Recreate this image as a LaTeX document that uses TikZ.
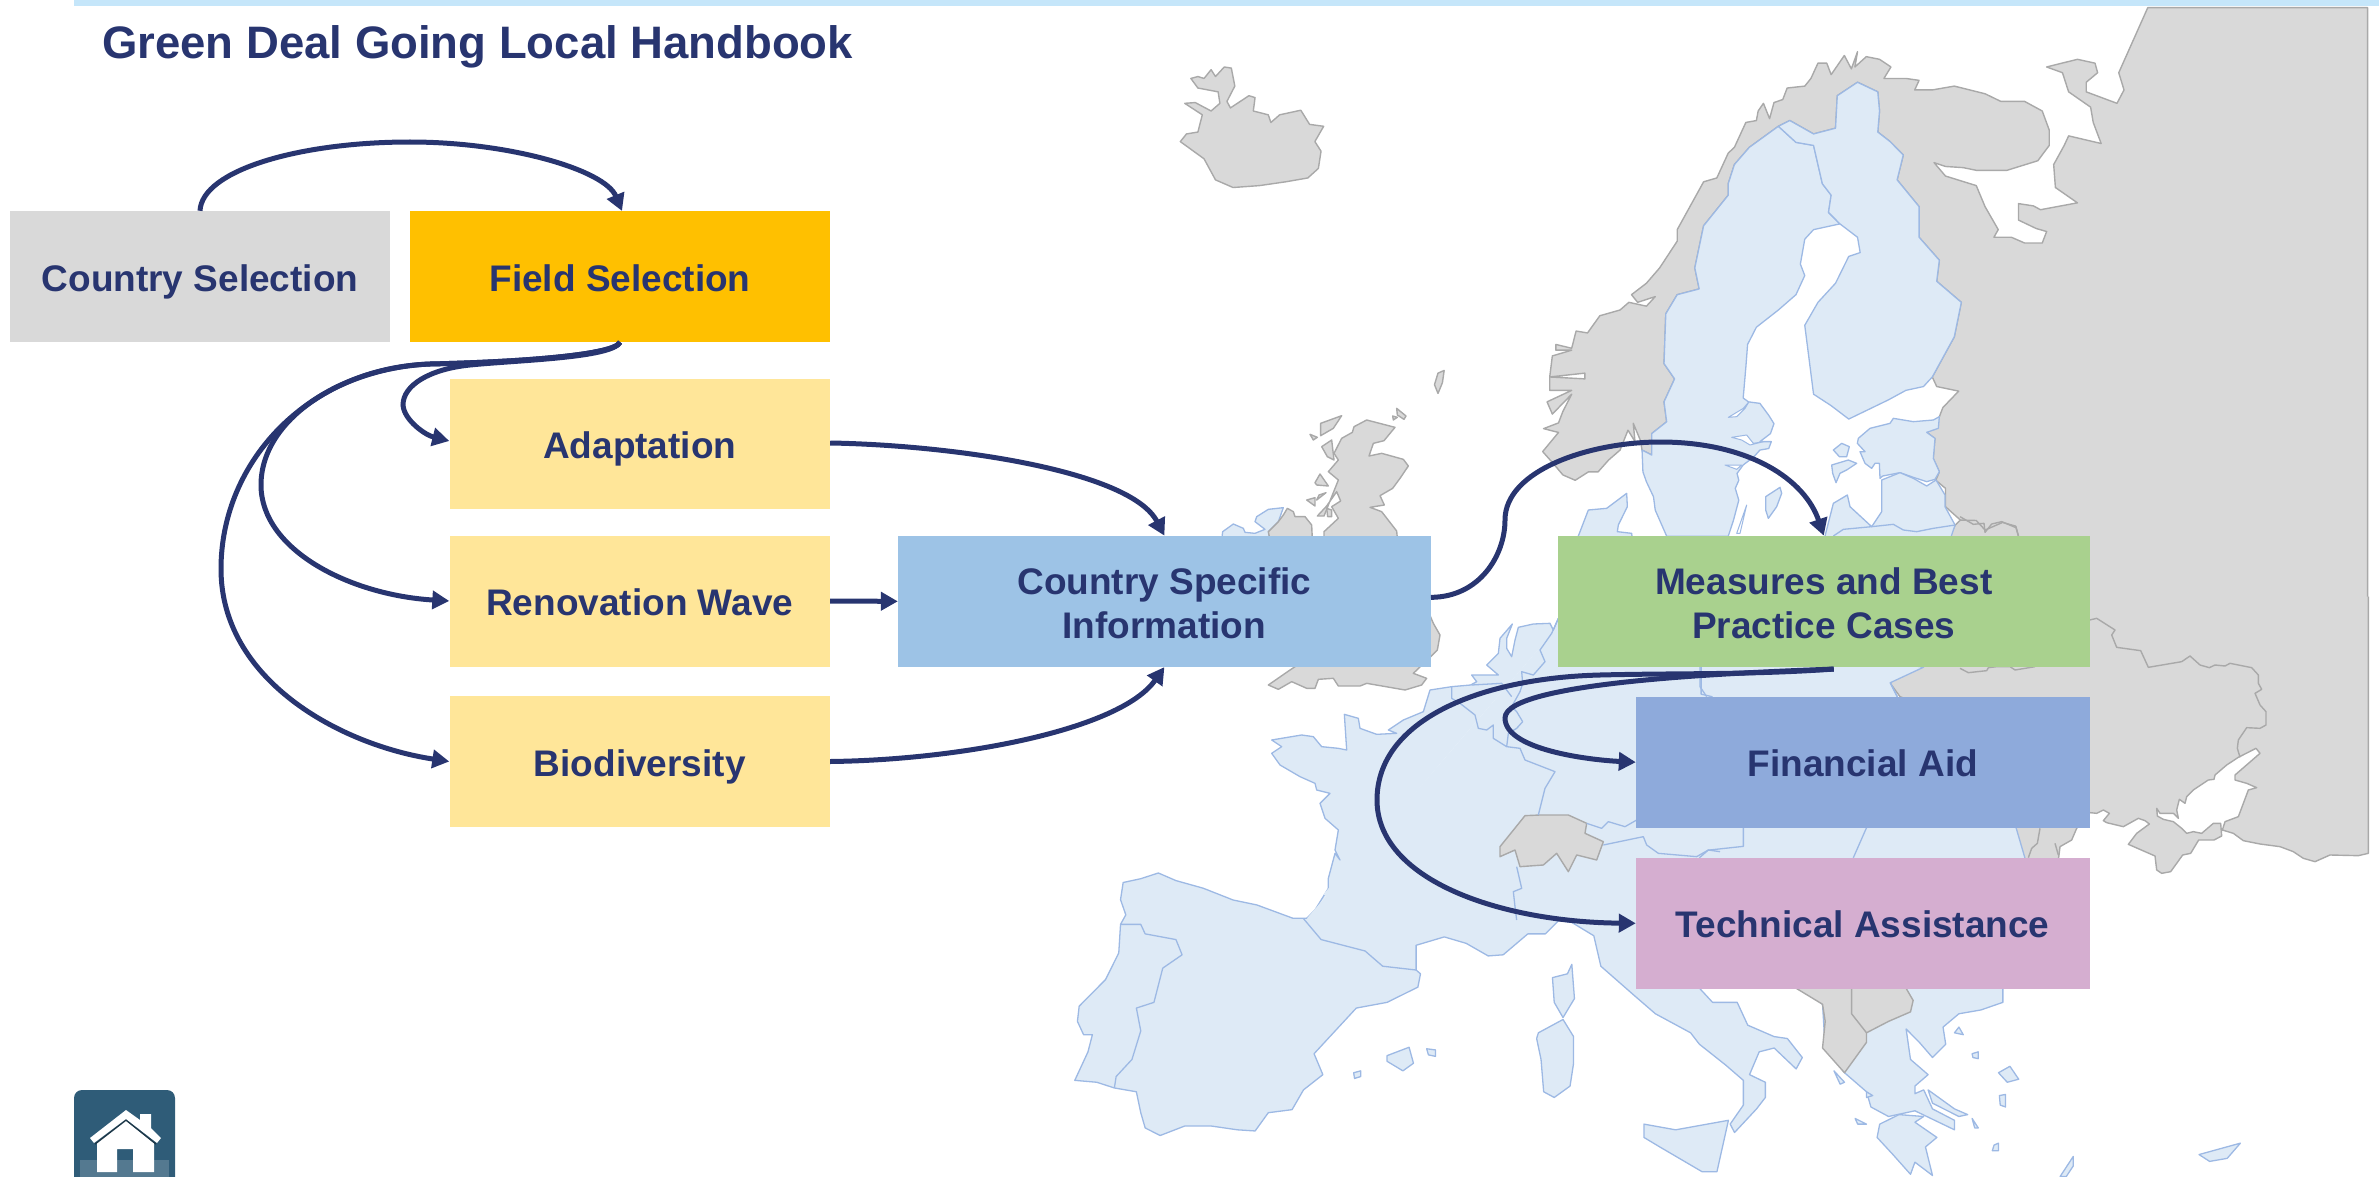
\documentclass[tikz,border=0pt]{standalone}
\usepackage{fontspec}
\setmainfont{Liberation Sans}
\usetikzlibrary{arrows.meta,calc}
\definecolor{navy}{HTML}{283570}
\definecolor{barblue}{HTML}{C5E6FA}
\definecolor{landgray}{HTML}{D9D9D9}
\definecolor{edgegray}{HTML}{A9A9A9}
\definecolor{landblue}{HTML}{DEEAF6}
\definecolor{edgeblue}{HTML}{9DB9E4}
\definecolor{boxgray}{HTML}{D9D9D9}
\definecolor{boxgold}{HTML}{FFC000}
\definecolor{boxcream}{HTML}{FFE699}
\definecolor{boxsky}{HTML}{9DC3E6}
\definecolor{boxgreen}{HTML}{A9D18E}
\definecolor{boxperi}{HTML}{8EAADB}
\definecolor{boxmauve}{HTML}{D5AED0}
\definecolor{hometeal}{HTML}{2F5C78}
\tikzset{
  nonEU/.style={fill=landgray,draw=edgegray,line width=1.4pt,line join=round},
  memberEU/.style={fill=landblue,draw=edgeblue,line width=1.3pt,line join=round},
  grayline/.style={draw=edgegray,line width=1.4pt,line join=round},
  blueline/.style={draw=edgeblue,line width=1.3pt,line join=round},
  lake/.style={fill=white,draw=edgeblue,line width=1pt,line join=round},
  za/.style={shift={(1000,0)},x=.8795pt,y=-.3827pt},
  zb/.style={shift={(1000,580)},x=.8797pt,y=-.3805pt},
  zc/.style={shift={(1200,400)},x=.33333pt,y=-.33333pt},
  zd/.style={shift={(1960,400)},x=.33333pt,y=-.33333pt},
  ze/.style={shift={(1700,400)},x=.33333pt,y=-.33333pt},
  box/.style={rectangle,inner sep=0pt,text=navy,align=center,anchor=center,
    font=\fontsize{37}{44.5}\selectfont\bfseries},
  oneline/.style={text height=29pt,text depth=0pt},
  link/.style={draw=navy,line width=5pt,-{Triangle[length=17pt,width=18pt]}},
}
\newcommand{\firstline}{\rule{0pt}{31pt}}
\begin{document}
\begin{tikzpicture}[x=1pt,y=-1pt]
\useasboundingbox (0,0) rectangle (2379,1177);
\fill[barblue] (74,0) rectangle (2379,6);

% ---------- map: northern grey land
\begin{scope}[za]
\filldraw[nonEU] (1555,1568)--(1555,20)--(1305,20)--(1272,190)--(1278,235)--(1270,270)--(1235,240)--(1235,215)--(1248,190)--(1245,165)--(1225,155)--(1190,175)--(1208,190)--(1215,240)--(1240,280)--(1243,320)--(1252,375)--(1215,355)--(1210,380)--(1198,430)--(1200,490)--(1225,530)--(1183,548)--(1175,538)--(1158,532)--(1158,575)--(1178,597)--(1190,605)--(1185,635)--(1165,635)--(1150,620)--(1130,620)--(1135,600)--(1120,540)--(1110,485)--(1075,460)--(1062,425)--(1075,435)--(1095,438)--(1110,445)--(1145,445)--(1180,420)--(1193,380)--(1193,340)--(1185,290)--(1165,265)--(1138,265)--(1120,245)--(1085,225)--(1060,235)--(1040,235)--(1045,210)--(1030,205)--(1005,205)--(1013,175)--(1000,155)--(985,148)--(972,175)--(975,135)--(968,180)--(960,145)--(945,195)--(940,165)--(930,165)--(922,205)--(915,225)--(895,230)--(890,260)--(880,268)--(875,310)--(868,270)--(862,290)--(860,315)--(848,320)--(835,385)--(828,400)--(815,465)--(800,475)--(770,600)--(770,630)--(750,700)--(735,740)--(718,770)--(725,790)--(745,775)--(735,800)--(715,790)--(705,810)--(682,825)--(668,870)--(655,865)--(650,910)--(632,900)--(632,915)--(650,915)--(628,930)--(625,985)--(665,975)--(665,990)--(625,985)--(625,1020)--(650,1020)--(622,1050)--(628,1082)--(650,1030)--(640,1075)--(635,1105)--(618,1120)--(635,1130)--(617,1180)--(629,1211)--(640,1241)--(654,1255)--(669,1233)--(680,1233)--(692,1202)--(705,1176)--(714,1124)--(722,1154)--(720,1106)--(728,1150)--(730,1176)--(741,1189)--(741,1133)--(758,1102)--(755,1050)--(767,990)--(755,950)--(757,820)--(770,770)--(795,755)--(790,700)--(800,590)--(828,510)--(828,480)--(835,430)--(852,385)--(885,330)--(898,315)--(925,350)--(950,335)--(952,250)--(975,215)--(998,240)--(1000,290)--(998,345)--(1012,370)--(1027,405)--(1020,470)--(1045,540)--(1045,620)--(1068,680)--(1065,735)--(1093,790)--(1085,880)--(1060,985)--(1065,1010)--(1090,1022)--(1072,1065)--(1068,1089)--(1054,1130)--(1063,1146)--(1061,1198)--(1068,1233)--(1064,1255)--(1075,1276)--(1075,1324)--(1092,1359)--(1086,1372)--(1080,1401)--(1080,1568);
\draw[grayline] (1092,1359)--(1110,1360)--(1120,1385)--(1140,1365)--(1155,1375)--(1158,1401);
% Iceland
\filldraw[nonEU] (217,205)--(225,200)--(232,205)--(240,182)--(245,200)--(255,175)--(263,178)--(267,225)--(258,265)--(262,282)--(283,250)--(290,255)--(288,290)--(305,300)--(308,320)--(318,300)--(342,288)--(352,325)--(368,330)--(358,370)--(365,395)--(362,440)--(350,465)--(325,475)--(295,485)--(265,490)--(245,470)--(232,415)--(205,370)--(212,350)--(225,345)--(230,300)--(210,270)--(222,268)--(240,290)--(250,270)--(248,240)--(225,230)--cycle;
% Faroe
\filldraw[nonEU] (498,975)--(505,968)--(503,1000)--(498,1028)--(494,1005)--cycle;
% Sweden
\filldraw[memberEU] (885,330)--(905,372)--(925,380)--(935,480)--(945,510)--(942,555)--(955,585)--(925,600)--(915,625)--(910,690)--(915,720)--(905,770)--(885,810)--(860,855)--(850,900)--(848,960)--(845,1040)--(851,1050)--(864,1054)--(874,1085)--(880,1107)--(876,1133)--(864,1154)--(877,1154)--(874,1172)--(864,1176)--(857,1194)--(845,1215)--(838,1237)--(840,1255)--(836,1276)--(840,1307)--(834,1359)--(828,1401)--(758,1401)--(745,1333)--(743,1298)--(735,1259)--(731,1233)--(730,1176)--(741,1189)--(741,1133)--(758,1102)--(755,1050)--(767,990)--(755,950)--(757,820)--(770,770)--(795,755)--(790,700)--(800,590)--(828,510)--(828,480)--(835,430)--(852,385)--cycle;
% Finland
\filldraw[memberEU] (955,585)--(975,620)--(978,660)--(965,670)--(950,740)--(930,790)--(915,850)--(925,1030)--(945,1060)--(965,1095)--(1010,1045)--(1030,1020)--(1050,1010)--(1060,985)--(1085,880)--(1093,790)--(1065,735)--(1068,680)--(1045,620)--(1045,540)--(1020,470)--(1027,405)--(1012,370)--(998,345)--(1000,290)--(998,240)--(975,215)--(952,250)--(950,335)--(925,350)--(898,315)--(885,330)--(905,372)--(925,380)--(935,480)--(945,510)--(942,555)--cycle;
\end{scope}

% ---------- southern grey land
\begin{scope}[zd]
\filldraw[nonEU] (1225,590)--(1225,1360)--(1195,1367)--(1110,1365)--(1065,1385)--(1030,1375)--(1000,1355)--(960,1340)--(900,1332)--(850,1322)--(820,1300)--(787,1290)--(795,1265)--(835,1250)--(865,1170)--(890,1163)--(860,1150)--(825,1140)--(825,1125)--(900,1060)--(888,1045)--(835,1072)--(800,1095)--(765,1125)--(762,1138)--(745,1140)--(700,1170)--(680,1190)--(675,1210)--(658,1198)--(650,1230)--(655,1255)--(640,1240)--(600,1240)--(590,1225)--(592,1248)--(610,1258)--(640,1265)--(665,1285)--(680,1300)--(700,1295)--(725,1300)--(760,1270)--(782,1270)--(785,1308)--(762,1320)--(716,1320)--(692,1360)--(668,1365)--(632,1415)--(605,1420)--(590,1410)--(585,1368)--(505,1333)--(530,1300)--(568,1272)--(555,1262)--(535,1255)--(490,1280)--(440,1268)--(430,1262)--(448,1240)--(430,1230)--(410,1240)--(390,1238)--(350,1285)--(335,1320)--(300,1340)--(295,1380)--(185,1380)--(165,1285)--(100,1000)--(-180,890)--(-210,849)--(-150,790)--(-150,590);
\draw[grayline] (389,660)--(410,655)--(465,690)--(455,705)--(470,742)--(542,752)--(565,802)--(665,785)--(690,768)--(720,795)--(748,803)--(765,795)--(795,798)--(810,790)--(875,803)--(895,825)--(895,850)--(905,868)--(885,880)--(900,915)--(918,935)--(918,975)--(900,985)--(860,983)--(835,1020)--(832,1045)--(840,1072);
\draw[grayline] (0,350)--(40,373)--(72,370)--(75,397)--(95,372)--(125,365)--(168,383)--(175,408);
\draw[grayline] (0,805)--(25,818)--(80,812)--(85,803)--(110,800)--(150,800)--(165,810)--(225,800);
\draw[grayline] (240,1285)--(232,1330)--(215,1345)--(205,1373);
\draw[grayline] (285,1330)--(295,1365);
\end{scope}

% ---------- western and central Europe, blue
\begin{scope}[zc]
\filldraw[memberEU] (1100,650)--(1075,655)--(1060,690)--(1050,670)--(1000,672)--(955,682)--(945,720)--(935,770)--(920,745)--(920,715)--(937,672)--(900,715)--(895,760)--(860,795)--(895,825)--(815,825)--(830,845)--(812,855)--(755,860)--(690,870)--(670,935)--(610,960)--(565,990)--(590,1000)--(530,1003)--(480,985)--(475,955)--(433,943)--(440,1050)--(415,1045)--(365,1040)--(340,1010)--(305,1005)--(215,1020)--(245,1040)--(215,1060)--(240,1095)--(300,1130)--(345,1150)--(350,1170)--(390,1180)--(360,1210)--(375,1255)--(415,1290)--(405,1350)--(420,1380)--(405,1360)--(385,1435)--(385,1465)--(345,1530)--(320,1555);
% Jutland
\filldraw[memberEU] (1135,420)--(1135,408)--(1165,330)--(1220,325)--(1280,280)--(1282,320)--(1255,375)--(1252,395)--(1295,400)--(1297,420);
% Ireland
\filldraw[memberEU] (65,420)--(68,395)--(100,372)--(130,385)--(135,397)--(165,400)--(195,388)--(165,365)--(170,350)--(205,328)--(250,323)--(235,365)--(205,395)--(210,420);
\end{scope}
\begin{scope}[zb]
\filldraw[memberEU] (349,889)--(333,889)--(292,854)--(265,841)--(231,810)--(200,790)--(180,770)--(160,785)--(140,795)--(137,840)--(143,880)--(137,905)--(135,980)--(120,1050)--(90,1120)--(88,1160)--(95,1195)--(105,1195)--(100,1240)--(85,1315)--(110,1320)--(130,1335)--(155,1345)--(160,1400)--(165,1440)--(182,1460)--(210,1435)--(240,1435)--(270,1445)--(290,1448)--(305,1400)--(332,1392)--(345,1340)--(367,1300)--(357,1245)--(405,1125)--(440,1110)--(475,1070)--(478,1035)--(473,1025)--(473,960)--(505,938)--(530,955)--(555,988)--(572,985)--(600,930)--(620,930)--(635,895)--(650,900)--(675,935)--(683,1015)--(720,1090)--(745,1140)--(785,1190)--(795,1220)--(825,1275)--(845,1315)--(845,1380)--(830,1430)--(835,1452)--(860,1390)--(870,1360)--(870,1320)--(852,1300)--(863,1240)--(880,1230)--(905,1285)--(912,1255)--(895,1205)--(880,1200)--(850,1170)--(838,1110)--(810,1110)--(790,1060)--(905,1060)--(935,1115)--(938,1230)--(960,1295)--(985,1345)--(990,1385)--(1010,1410)--(1040,1395)--(1085,1445)--(1085,1420)--(1060,1390)--(1050,1340)--(1040,1350)--(1040,1330)--(1055,1300)--(1035,1260)--(1030,1180)--(1045,1215)--(1060,1255)--(1075,1220)--(1072,1175)--(1090,1140)--(1115,1130)--(1140,1110)--(1140,1060)--(1165,730)--(1155,651)--(1020,307)--(1012,270)--(1050,229)--(644,96);
\draw[landblue,line width=5pt] (610,170)--(370,830);
% Peloponnese, Sicily, islands
\filldraw[memberEU] (1000,1430)--(1022,1405)--(1050,1410)--(1040,1425)--(1065,1465)--(1052,1490)--(1060,1565)--(1040,1530)--(1035,1562)--(1015,1510)--(997,1465)--cycle;
\filldraw[memberEU] (732,1430)--(768,1445)--(828,1420)--(815,1555)--(798,1555)--(750,1490)--(732,1465)--cycle;
\filldraw[memberEU] (612,1190)--(640,1155)--(652,1200)--(652,1270)--(648,1330)--(630,1360)--(618,1345)--(615,1260)--(610,1205)--cycle;
\filldraw[memberEU] (650,1010)--(653,1100)--(640,1150)--(630,1110)--(628,1045)--(645,1035)--cycle;
\filldraw[memberEU] (440,1250)--(465,1228)--(470,1270)--(458,1290)--(440,1265)--cycle;
\filldraw[memberEU] (485,1232)--(495,1235)--(495,1252)--(487,1248)--cycle;
\filldraw[memberEU] (402,1295)--(410,1290)--(410,1305)--(403,1310)--cycle;
\filldraw[memberEU] (1363,1510)--(1410,1480)--(1395,1520)--(1375,1528)--cycle;
\filldraw[memberEU] (1205,1568)--(1220,1515)--(1220,1540)--(1212,1568)--cycle;
\filldraw[memberEU] (1090,1175)--(1095,1195)--(1085,1190)--cycle;
\filldraw[memberEU] (1105,1245)--(1112,1240)--(1112,1258)--(1106,1255)--cycle;
\filldraw[memberEU] (1135,1295)--(1148,1278)--(1158,1312)--(1145,1320)--cycle;
\filldraw[memberEU] (1136,1355)--(1143,1352)--(1143,1385)--(1137,1380)--cycle;
\filldraw[memberEU] (948,1290)--(960,1320)--(955,1325)--cycle;
\filldraw[memberEU] (972,1415)--(985,1430)--(975,1430)--cycle;
\filldraw[memberEU] (1130,1485)--(1135,1480)--(1135,1500)--(1128,1500)--cycle;
\filldraw[memberEU] (1105,1415)--(1112,1440)--(1108,1440)--cycle;
\filldraw[memberEU] (1055,1340)--(1085,1390)--(1100,1405)--(1090,1410)--(1060,1375)--cycle;
\filldraw[memberEU] (985,1345)--(992,1355)--(985,1360)--cycle;
% Spanish and Portuguese borders
\draw[blueline] (345,890)--(365,945)--(415,975)--(435,1015)--(473,1025);
\draw[blueline] (137,905)--(160,905)--(165,930)--(200,945)--(207,985)--(185,1020)--(175,1110)--(155,1125)--(160,1185)--(150,1260)--(132,1305)--(130,1335);
\draw[blueline] (845,651)--(845,700)--(805,710)--(795,730);
\draw[blueline] (985,651)--(970,730);
\draw[blueline] (797,229)--(797,300)--(810,307);
\draw[blueline] (1012,270)--(1020,307);
% Balkan grey
\filldraw[nonEU] (905,1073)--(935,1115)--(938,1160)--(935,1230)--(960,1295)--(985,1215)--(985,1190)--(1010,1160)--(1035,1135)--(1038,1105)--(1030,1073);
\draw[grayline] (968,1073)--(968,1140)--(985,1190);
\end{scope}

% ---------- Baltic states and small islands
\begin{scope}[ze]
\filldraw[memberEU] (475,115)--(510,85)--(570,70)--(580,55)--(640,65)--(700,60)--(718,50)--(715,85)--(680,97)--(705,115)--(700,175)--(718,215)--(705,238)--(680,245)--(640,232)--(600,218)--(548,228)--(540,235)--(538,190)--(525,190)--(515,205)--(495,190)--(480,155)--(495,155)--(472,130)--cycle;
\filldraw[memberEU] (372,420)--(400,310)--(442,285)--(450,320)--(515,380)--(545,335)--(545,240)--(600,218)--(640,235)--(680,258)--(708,240)--(735,285)--(735,320)--(765,375)--(750,420);
\draw[blueline] (400,408)--(430,388)--(515,380)--(580,373)--(610,390)--(650,395)--(700,385)--(765,375);
\filldraw[memberEU] (197,290)--(240,262)--(245,280)--(230,320)--(205,355)--(197,330)--cycle;
\filldraw[memberEU] (400,150)--(425,130)--(448,140)--(440,170)--(418,170)--cycle;
\filldraw[memberEU] (395,195)--(445,180)--(470,190)--(440,210)--(420,220)--(408,248)--(398,220)--cycle;
\filldraw[lake] (85,52)--(130,25)--(147,5)--(135,25)--(110,50)--cycle;
\filldraw[lake] (95,112)--(140,105)--(160,130)--(190,125)--(150,135)--(125,120)--cycle;
\filldraw[lake] (75,195)--(125,195)--(110,208)--cycle;
\filldraw[lake] (110,400)--(140,315)--(120,400)--cycle;
\end{scope}

% ---------- British Isles, Switzerland, European borders
\begin{scope}[zc]
\filldraw[nonEU] (500,60)--(585,82)--(552,122)--(520,130)--(507,168)--(545,160)--(610,178)--(625,198)--(600,235)--(578,265)--(540,287)--(553,315)--(510,322)--(545,335)--(590,393)--(592,415)--(700,670)--(720,705)--(712,750)--(692,770)--(640,820)--(680,835)--(665,855)--(615,870)--(500,850)--(480,858)--(415,858)--(400,835)--(355,838)--(345,865)--(320,865)--(275,845)--(235,868)--(205,855)--(270,810)--(300,790)--(372,415)--(372,395)--(415,355)--(395,320)--(422,303)--(410,275)--(380,318)--(352,348)--(372,348)--(415,240)--(385,215)--(415,180)--(402,160)--(425,115)--(457,97)--(462,80)--cycle;
\filldraw[nonEU] (362,70)--(425,47)--(400,85)--(362,107)--cycle;
\filldraw[nonEU] (365,140)--(395,120)--(402,180)--(382,170)--cycle;
\filldraw[nonEU] (330,103)--(352,112)--(340,120)--cycle;
\filldraw[nonEU] (360,222)--(385,258)--(350,255)--(345,248)--cycle;
\filldraw[nonEU] (378,278)--(350,300)--(357,285)--cycle;
\filldraw[nonEU] (320,300)--(345,293)--(345,318)--cycle;
\filldraw[nonEU] (590,25)--(618,48)--(612,58)--(592,45)--cycle;
\filldraw[nonEU] (578,48)--(592,52)--(580,60)--cycle;
\filldraw[nonEU] (380,325)--(395,330)--(395,350)--(383,350)--cycle;
\filldraw[nonEU] (210,420)--(205,395)--(235,365)--(250,345)--(262,325)--(280,335)--(285,350)--(315,350)--(335,375)--(337,420);
\filldraw[nonEU] (975,1247)--(1020,1245)--(1105,1245)--(1160,1270)--(1155,1300)--(1210,1325)--(1190,1380)--(1130,1365)--(1105,1415)--(1070,1360)--(1030,1395)--(960,1400)--(945,1350)--(900,1370)--(900,1340)--cycle;
\draw[blueline] (755,860)--(755,895)--(780,910)--(825,945)--(835,985)--(860,990)--(880,975)--(880,1015)--(920,1040)--(960,1045)--(975,1080)--(1065,1115)--(1035,1165)--(1015,1245);
\draw[blueline] (1075,655)--(1055,700)--(1020,750)--(1035,785)--(1000,825)--(965,815)--(968,850)--(960,875)--(935,920)--(950,935)--(968,965)--(950,985)--(925,1000)--(920,1040);
\draw[blueline] (815,855)--(905,850)--(935,890);
\draw[blueline] (950,1400)--(965,1465)--(940,1475)--(945,1520)--(950,1560);
\draw[blueline] (1160,1270)--(1205,1285)--(1225,1265)--(1275,1280)--(1310,1260);
\draw[blueline] (1210,1335)--(1330,1310)--(1340,1335)--(1375,1360)--(1490,1370)--(1525,1350)--(1560,1355);
\draw[blueline] (1500,800)--(1500,860)--(1520,890);
\end{scope}

% ---------- home button
\fill[hometeal,rounded corners=8pt] (74,1195)--(74,1090)--(175,1090)--(175,1195)--cycle;
\fill[hometeal!82!white] (80,1160) rectangle (169,1177);
\fill[white] (97,1142)--(126,1120)--(154,1142)--(154,1172)--(133,1172)--(133,1149)--(117,1149)--(117,1172)--(97,1172)--cycle;
\draw[hometeal!60!black,line width=1.5pt] (95,1144)--(126,1120)--(156,1144);
\fill[white] (90,1138)--(126,1110)--(140,1120)--(140,1114)--(151,1114)--(151,1128)--(161,1138)--(157,1143)--(126,1119)--(94,1143)--cycle;

% ---------- boxes
\node[box,oneline,fill=boxgray,minimum width=380pt,minimum height=131pt] (cs) at (200,276.5) {Country Selection};
\node[box,oneline,fill=boxgold,minimum width=420pt,minimum height=131pt] (fs) at (620,276.5) {Field Selection};
\node[box,oneline,fill=boxcream,minimum width=380.5pt,minimum height=130pt] (ad) at (639.75,444) {Adaptation};
\node[box,oneline,fill=boxcream,minimum width=380.5pt,minimum height=131pt] (rw) at (639.75,601) {Renovation Wave};
\node[box,oneline,fill=boxcream,minimum width=380.5pt,minimum height=131pt] (bd) at (639.75,761.5) {Biodiversity};
\node[box,fill=boxsky,minimum width=532.7pt,minimum height=131pt] (ci) at (1164.4,601.35) {\firstline Country Specific\\Information};
\node[box,fill=boxgreen,minimum width=531.5pt,minimum height=131pt] (ms) at (1823.75,601.35) {\firstline Measures and Best\\Practice Cases};
\node[box,oneline,fill=boxperi,minimum width=453.5pt,minimum height=131pt] (fa) at (1862.75,762.2) {Financial Aid};
\node[box,oneline,fill=boxmauve,minimum width=453.5pt,minimum height=131pt] (ta) at (1862.75,923.3) {Technical Assistance};

% ---------- title
\node[anchor=base west,inner sep=0pt,text=navy,font=\fontsize{45.5}{50}\selectfont\bfseries] (title) at (102,59) {Green Deal Going Local Handbook};

% ---------- connectors
\draw[link] (cs.north) .. controls (202,170) and (300,142) .. (410,142) .. controls (510,142) and (605,170) .. (622,211);
\draw[link] (fs.south) .. controls (615,355) and (520,362) .. (430,364) .. controls (310,368) and (221,460) .. (221,569) .. controls (221,680) and (340,745) .. (bd.west);
\draw[link] (fs.south) .. controls (615,355) and (520,362) .. (430,364) .. controls (340,368) and (261,420) .. (261,485) .. controls (261,550) and (350,595) .. (rw.west);
\draw[link] (fs.south) .. controls (612,358) and (520,360) .. (470,365) .. controls (430,369) and (403,385) .. (403,405) .. controls (404,420) and (425,435) .. ($(ad.west)+(0,-3)$);
\draw[link] ($(ad.east)+(0,-1)$) .. controls (950,445) and (1130,470) .. (ci.north);
\draw[link] (rw.east) -- (ci.west);
\draw[link] (bd.east) .. controls (960,760) and (1120,730) .. (ci.south);
\draw[link] ($(ci.east)+(0,-4)$) .. controls (1480,597) and (1505,555) .. (1505,520) .. controls (1505,470) and (1590,442) .. (1660,442) .. controls (1750,442) and (1805,480) .. (ms.north);
\draw[link] ($(ms.south)+(10,2)$) .. controls (1760,672) and (1505,680) .. (1505,718) .. controls (1505,750) and (1590,760) .. (fa.west);
\draw[link] ($(ms.south)+(10,2)$) .. controls (1750,675) and (1680,673) .. (1600,675) .. controls (1480,678) and (1377,720) .. (1377,800) .. controls (1377,880) and (1500,922) .. (ta.west);
\end{tikzpicture}
\end{document}
